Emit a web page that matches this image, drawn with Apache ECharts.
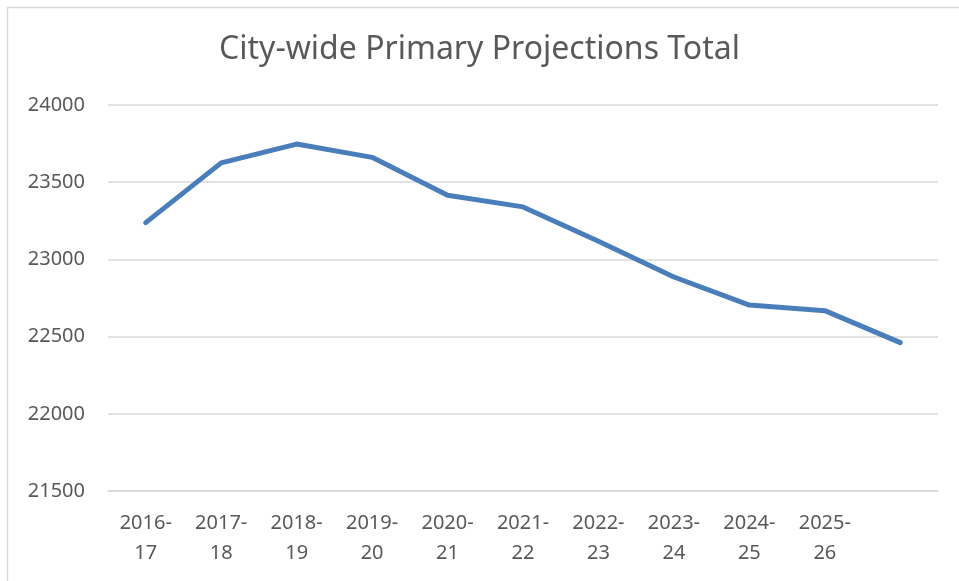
<!DOCTYPE html>
<html>
<head>
<meta charset="utf-8">
<script src="https://cdn.jsdelivr.net/npm/echarts@6/dist/echarts.min.js"></script>
<style>
  html, body { margin: 0; padding: 0; background: #fff; }
  #chart { width: 959px; height: 581px; }
</style>
</head>
<body>
<div id="chart"></div>
<script>
  // school years (last point has no label in the original)
  var years = ['2016-\n17', '2017-\n18', '2018-\n19', '2019-\n20', '2020-\n21',
    '2021-\n22', '2022-\n23', '2023-\n24', '2024-\n25', '2025-\n26', '']
  // projected totals
  var totals = [23238, 23625, 23747, 23661, 23416, 23340, 23118, 22886, 22704, 22668, 22461]

  var yMin = 21500
  var yMax = 24000
  var yStep = 500

  var chart = echarts.init(document.getElementById('chart'))

  var option = {
    animation: false,
    backgroundColor: '#fff',
    textStyle: { fontFamily: 'Noto Sans' },
    graphic: [
      {
        // chart border, only top/left edges fall inside the picture
        type: 'rect',
        shape: { x: 7.5, y: 7.5, width: 1000, height: 1000 },
        style: { fill: 'none', stroke: '#d9d9d9', lineWidth: 1.5 }
      }
    ],
    title: {
      text: 'City-wide Primary Projections Total',
      left: 'center',
      top: 29,
      textStyle: {
        fontFamily: 'Noto Sans',
        fontSize: 32,
        fontWeight: 'normal',
        color: '#595959'
      }
    },
    grid: {
      left: 108,
      right: 21,
      top: 105,
      bottom: 90
    },
    xAxis: {
      type: 'category',
      data: years,
      boundaryGap: true,
      axisLine: { show: true, lineStyle: { color: '#d9d9d9', width: 1.5 } },
      axisTick: { show: false },
      axisLabel: {
        interval: 0,
        margin: 17,
        fontSize: 20,
        lineHeight: 30,
        color: '#595959',
        fontFamily: 'Noto Sans'
      }
    },
    yAxis: {
      type: 'value',
      min: yMin,
      max: yMax,
      interval: yStep,
      axisLine: { show: false },
      axisTick: { show: false },
      splitLine: { lineStyle: { color: '#d9d9d9', width: 1.5 } },
      axisLabel: {
        margin: 23,
        fontSize: 20,
        color: '#595959',
        fontFamily: 'Noto Sans',
        formatter: function (v) { return String(v) }
      }
    },
    series: [
      {
        name: 'Total',
        type: 'line',
        data: totals,
        symbol: 'none',
        lineStyle: { color: '#4a7ebb', width: 5, cap: 'round', join: 'round' }
      }
    ]
  }

  chart.setOption(option)
</script>
</body>
</html>
